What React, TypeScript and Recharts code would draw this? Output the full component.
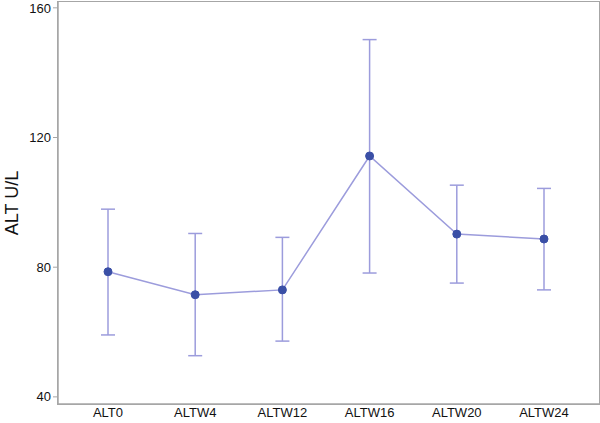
import React from 'react';
import { ComposedChart, Line, XAxis, YAxis, ErrorBar } from 'recharts';

const categories = ['ALT0', 'ALTW4', 'ALTW12', 'ALTW16', 'ALTW20', 'ALTW24'];
const means = [78.6, 71.5, 73.0, 114.3, 90.2, 88.7];
const lowers = [59.1, 52.7, 57.2, 78.2, 75.1, 73.0];
const uppers = [97.9, 90.4, 89.2, 150.2, 105.3, 104.3];
const yTicks = [40, 80, 120, 160];

const data = categories.map((c, i) => ({
  name: c,
  mean: means[i],
  err: [means[i] - lowers[i], uppers[i] - means[i]],
}));

const frame = '#a6a6a6';
const lineColor = '#9c9cdc';
const dotColor = '#3a4fa6';
const font = 'Liberation Sans, Arial, sans-serif';

export default function App() {
  return (
    <div style={{ position: 'absolute', left: 0, top: 0, width: 600, height: 423, background: '#fff' }}>
      <ComposedChart
        width={600}
        height={423}
        data={data}
        margin={{ top: 2, right: 1, bottom: 0, left: 0 }}
      >
        <XAxis
          dataKey="name"
          padding={{ left: 50, right: 55 }}
          axisLine={{ stroke: frame, strokeWidth: 1.5 }}
          tickLine={false}
          tick={{ fill: '#111', fontSize: 13, fontFamily: font }}
          tickSize={4}
          tickMargin={0}
          height={19}
          interval={0}
        />
        <YAxis
          domain={[37.8, 161.8]}
          ticks={yTicks}
          width={58}
          axisLine={{ stroke: frame, strokeWidth: 1.5 }}
          tickLine={{ stroke: frame }}
          tickSize={5}
          tick={{ fill: '#111', fontSize: 13, fontFamily: font }}
          label={{
            value: 'ALT U/L',
            angle: -90,
            position: 'insideLeft',
            offset: 12,
            style: { textAnchor: 'middle', fontSize: 18, fontFamily: font, fill: '#111' },
          }}
        />
        <Line
          dataKey="mean"
          stroke={lineColor}
          strokeWidth={1.5}
          dot={{ r: 4, fill: dotColor, stroke: dotColor, strokeWidth: 1 }}
          activeDot={false}
          isAnimationActive={false}
        >
          <ErrorBar
            dataKey="err"
            width={7}
            stroke={lineColor}
            strokeWidth={1.5}
            direction="y"
            isAnimationActive={false}
          />
        </Line>
      </ComposedChart>
      <div
        style={{
          position: 'absolute',
          left: 57,
          top: 1,
          width: 541,
          height: 402,
          border: `1.5px solid ${frame}`,
          pointerEvents: 'none',
        }}
      />
    </div>
  );
}
